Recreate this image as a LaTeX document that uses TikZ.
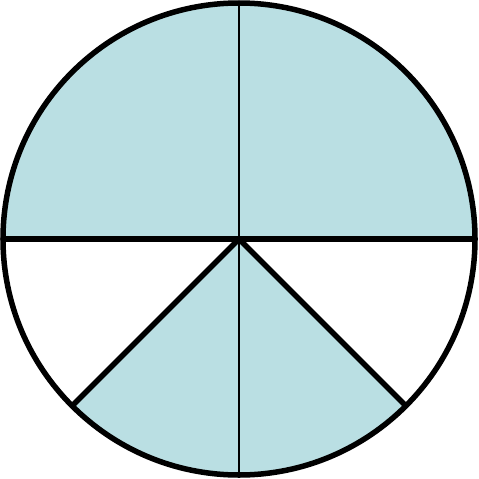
\documentclass[tikz,border=0pt]{standalone}
\usetikzlibrary{positioning, calc}
\definecolor{pieblue}{RGB}{186, 223, 227}

\begin{document}
\begin{tikzpicture}[
  x=1pt, y=-1pt,
  thickline/.style={line width=5.5pt, line cap=round},
  thinline/.style={line width=1.5pt},
  piece/.style={fill=pieblue}
]
  \useasboundingbox (0,0) rectangle (479,479);
  % centre and points on the rim
  \coordinate (O) at (239,239);
  \coordinate (T) at (239,3);
  \coordinate (B) at (239,475);
  \coordinate (L) at (3,239);
  \coordinate (R) at (475,239);
  \coordinate (BL) at ($(O)+(-166.9,166.9)$);
  \coordinate (BR) at ($(O)+(166.9,166.9)$);

  % shaded pieces
  \fill[piece] (R) arc[start angle=0, end angle=-180, radius=236] -- cycle;
  \fill[piece] (O) -- (BL) arc[start angle=135, end angle=45, radius=236] -- cycle;

  % dividing lines
  \draw[thinline] (T) -- (B);
  \draw[thickline] (L) -- (R);
  \draw[thickline] (O) -- (BL);
  \draw[thickline] (O) -- (BR);
  \draw[thickline] (O) circle[radius=236];
\end{tikzpicture}
\end{document}
